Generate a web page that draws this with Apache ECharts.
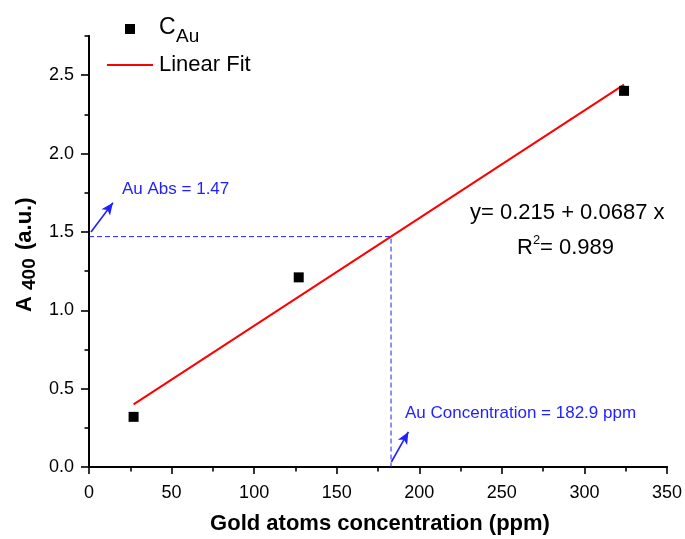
<!DOCTYPE html>
<html>
<head>
<meta charset="utf-8">
<script src="https://cdn.jsdelivr.net/npm/echarts@6/dist/echarts.min.js"></script>
<style>html,body{margin:0;padding:0;background:#fff}#c{width:685px;height:539px}</style>
</head>
<body>
<div id="c"></div>
<script>
// ---- data ----
const xValues = [27, 127, 324];          // Gold atoms concentration (ppm)
const yValues = [0.32, 1.21, 2.40];      // A400 (a.u.)
const fitX = [27, 324];                   // linear fit end points
const fitY = [0.40, 2.44];
const auConc = 182.9;                     // ppm
const auAbs = 1.47;                       // a.u.
const xTicks = [0, 50, 100, 150, 200, 250, 300, 350];
const xMinor = [25, 75, 125, 175, 225, 275, 325];
const yTicks = [0, 0.5, 1.0, 1.5, 2.0, 2.5];
const yMinor = [0.25, 0.75, 1.25, 1.75, 2.25, 2.75];
const arrow1 = [[1.2, 1.50], [14.5, 1.686]];
const arrow2 = [[183.1, 0.032], [193.4, 0.224]];

const FONT = '"Liberation Sans", Arial, sans-serif';
const BLUE = '#1f1fff';
const chart = echarts.init(document.getElementById('c'), null, {renderer: 'canvas'});

const axisCommon = {
  axisLine: {show: true, lineStyle: {color: '#000', width: 1.8}},
  splitLine: {show: false}
};

const option = {
  backgroundColor: '#fff',
  animation: false,
  grid: {left: 89, right: 15, top: 36, bottom: 72, containLabel: false},
  xAxis: [
    Object.assign({
      type: 'value', min: 0, max: 350, position: 'bottom',
      axisTick: {show: true, inside: false, length: 7, customValues: xTicks, lineStyle: {color: '#000', width: 1.6}},
      axisLabel: {customValues: xTicks, margin: 17, fontSize: 18, fontFamily: FONT, color: '#000'}
    }, axisCommon),
    Object.assign({
      type: 'value', min: 0, max: 350, position: 'bottom', offset: 0,
      axisTick: {show: true, inside: false, length: 4.5, customValues: xMinor, lineStyle: {color: '#000', width: 1.6}},
      axisLabel: {show: false}
    }, axisCommon)
  ],
  yAxis: [
    Object.assign({
      type: 'value', min: 0, max: 2.75, position: 'left',
      axisTick: {show: true, inside: false, length: 8, customValues: yTicks, lineStyle: {color: '#000', width: 1.6}},
      axisLabel: {customValues: yTicks, margin: 15, fontSize: 18, fontFamily: FONT, color: '#000',
        formatter: v => v.toFixed(1)}
    }, axisCommon),
    Object.assign({
      type: 'value', min: 0, max: 2.75, position: 'left', offset: 0,
      axisTick: {show: true, inside: false, length: 4.5, customValues: yMinor, lineStyle: {color: '#000', width: 1.6}},
      axisLabel: {show: false}
    }, axisCommon)
  ],
  series: [
    {
      name: 'guide', type: 'line', xAxisIndex: 0, yAxisIndex: 0,
      data: [[0, auAbs], [auConc, auAbs], [auConc, 0]],
      symbol: 'none', lineStyle: {color: BLUE, width: 1, type: [5, 3]},
      silent: true, z: 1,
      markLine: {
        silent: true, symbol: ['none', 'arrow'], symbolSize: [8, 12],
        label: {show: false},
        lineStyle: {color: BLUE, width: 1.6, type: 'solid'},
        data: [
          [{coord: arrow1[0]}, {coord: arrow1[1]}],
          [{coord: arrow2[0]}, {coord: arrow2[1]}]
        ]
      }
    },
    {
      name: 'Linear Fit', type: 'line', xAxisIndex: 0, yAxisIndex: 0,
      data: fitX.map((x, i) => [x, fitY[i]]),
      symbol: 'none', lineStyle: {color: '#ff0000', width: 2}, z: 2
    },
    {
      name: 'CAu', type: 'scatter', xAxisIndex: 0, yAxisIndex: 0,
      data: xValues.map((x, i) => [x, yValues[i]]),
      symbol: 'rect', symbolSize: 10, itemStyle: {color: '#000', opacity: 1}, z: 3
    }
  ],
  graphic: [
    // legend
    {type: 'rect', shape: {x: 125, y: 24, width: 10, height: 10}, style: {fill: '#000'}},
    {type: 'text', x: 159, y: 28, style: {text: 'C', font: '23px ' + FONT, fill: '#000', textVerticalAlign: 'middle'}},
    {type: 'text', x: 176, y: 37, style: {text: 'Au', font: '19px ' + FONT, fill: '#000', textVerticalAlign: 'middle'}},
    {type: 'line', shape: {x1: 107, y1: 65, x2: 153, y2: 65}, style: {stroke: '#ff0000', lineWidth: 2}},
    {type: 'text', x: 159, y: 65, style: {text: 'Linear Fit', font: '22px ' + FONT, fill: '#000', textVerticalAlign: 'middle'}},
    // equation
    {type: 'text', x: 470, y: 213, style: {text: 'y= 0.215 + 0.0687 x', font: '22px ' + FONT, fill: '#000', textVerticalAlign: 'middle'}},
    {type: 'text', x: 517, y: 248, style: {text: 'R', font: '22px ' + FONT, fill: '#000', textVerticalAlign: 'middle'}},
    {type: 'text', x: 533, y: 240, style: {text: '2', font: '13px ' + FONT, fill: '#000', textVerticalAlign: 'middle'}},
    {type: 'text', x: 540, y: 248, style: {text: '= 0.989', font: '22px ' + FONT, fill: '#000', textVerticalAlign: 'middle'}},
    // annotations
    {type: 'text', x: 122, y: 189, style: {text: 'Au Abs = 1.47', font: '17px ' + FONT, fill: BLUE, textVerticalAlign: 'middle'}},
    {type: 'text', x: 405, y: 413, style: {text: 'Au Concentration = 182.9 ppm', font: '17px ' + FONT, fill: BLUE, textVerticalAlign: 'middle'}},
    // x title
    {type: 'text', x: 380, y: 524, style: {text: 'Gold atoms concentration (ppm)', font: 'bold 22px ' + FONT, fill: '#000', textAlign: 'center', textVerticalAlign: 'middle'}},
    // y title (rotated)
    {type: 'group', x: 25, y: 312, rotation: Math.PI / 2, children: [
      {type: 'text', x: 0, y: 0, style: {text: 'A', font: 'bold 22px ' + FONT, fill: '#000', textVerticalAlign: 'middle'}},
      {type: 'text', x: 22, y: 5, style: {text: '400', font: 'bold 19px ' + FONT, fill: '#000', textVerticalAlign: 'middle'}},
      {type: 'text', x: 62, y: 0, style: {text: '(a.u.)', font: 'bold 22px ' + FONT, fill: '#000', textVerticalAlign: 'middle'}}
    ]}
  ]
};
chart.setOption(option);
</script>
</body>
</html>
